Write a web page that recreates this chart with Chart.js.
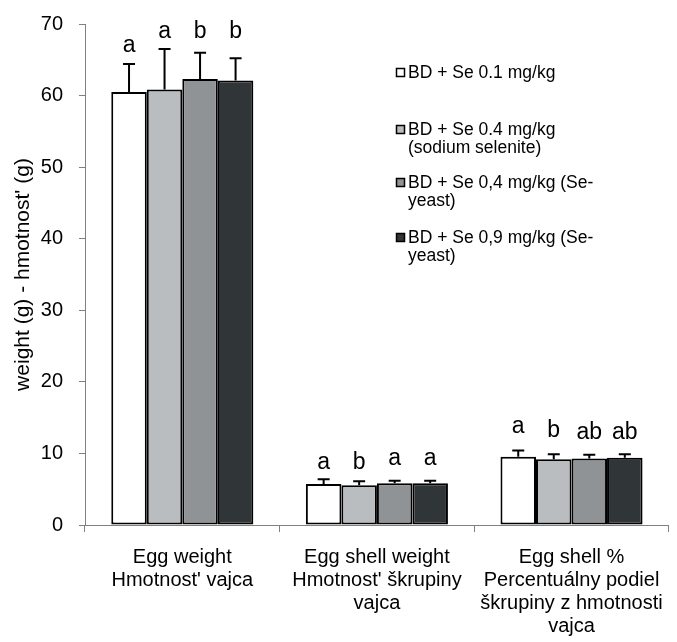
<!DOCTYPE html>
<html>
<head>
<meta charset="utf-8">
<script src="https://cdn.jsdelivr.net/npm/chart.js@4.4.0/dist/chart.umd.min.js"></script>
<style>
  html, body { margin: 0; padding: 0; background: #fff; }
  #wrap { width: 677px; height: 642px; }
</style>
</head>
<body>
<div id="wrap"><canvas id="eggChart" width="677" height="642"></canvas></div>
<script>
// categories (x axis)
const categories = [
  ["Egg weight", "Hmotnost' vajca"],
  ["Egg shell weight", "Hmotnost' škrupiny", "vajca"],
  ["Egg shell %", "Percentuálny podiel", "škrupiny z hmotnosti", "vajca"]
];

// groups
const groupNames = [
  ["BD + Se 0.1 mg/kg"],
  ["BD + Se 0.4 mg/kg", "(sodium selenite)"],
  ["BD + Se 0,4 mg/kg (Se-", "yeast)"],
  ["BD + Se 0,9 mg/kg (Se-", "yeast)"]
];
const groupColors = ["#ffffff", "#b9bdbf", "#8f9395", "#303538"];

// means
const se01 = [60.5, 5.73, 9.55];
const se04 = [60.85, 5.54, 9.2];
const se04y = [62.3, 5.82, 9.3];
const se09y = [62.1, 5.82, 9.4];

// standard deviations (upper error bars)
const se01Err = [3.9, 0.67, 0.85];
const se04Err = [5.65, 0.56, 0.7];
const se04yErr = [3.7, 0.38, 0.5];
const se09yErr = [3.1, 0.38, 0.5];

// significance letters and the height they sit at
const se01Letters = ["a", "a", "a"];
const se04Letters = ["a", "b", "b"];
const se04yLetters = ["b", "a", "ab"];
const se09yLetters = ["b", "a", "ab"];
const se01LetterY = [66.1, 7.8, 12.8];
const se04LetterY = [68.1, 7.8, 12.25];
const se04yLetterY = [68.1, 8.4, 11.97];
const se09yLetterY = [68.1, 8.4, 12.0];

const yTicks = [0, 10, 20, 30, 40, 50, 60, 70];

const FONT = "'Liberation Sans', Arial, sans-serif";

const seriesValues = [se01, se04, se04y, se09y];
const seriesErr = [se01Err, se04Err, se04yErr, se09yErr];
const seriesLetters = [se01Letters, se04Letters, se04yLetters, se09yLetters];
const seriesLetterY = [se01LetterY, se04LetterY, se04yLetterY, se09yLetterY];

const errorBars = {
  id: "errorBars",
  afterDatasetsDraw(chart) {
    const ctx = chart.ctx;
    const y = chart.scales.y;
    ctx.save();
    ctx.strokeStyle = "#000";
    ctx.lineWidth = 2;
    chart.data.datasets.forEach((ds, i) => {
      chart.getDatasetMeta(i).data.forEach((bar, j) => {
        const top = y.getPixelForValue(ds.data[j] + seriesErr[i][j]);
        ctx.beginPath();
        ctx.moveTo(bar.x, bar.y);
        ctx.lineTo(bar.x, top);
        ctx.moveTo(bar.x - 6, top);
        ctx.lineTo(bar.x + 6, top);
        ctx.stroke();
      });
    });
    // letters
    ctx.fillStyle = "#000";
    ctx.font = "23px " + FONT;
    ctx.textAlign = "center";
    ctx.textBaseline = "alphabetic";
    chart.data.datasets.forEach((ds, i) => {
      chart.getDatasetMeta(i).data.forEach((bar, j) => {
        ctx.fillText(seriesLetters[i][j], bar.x, y.getPixelForValue(seriesLetterY[i][j]));
      });
    });
    ctx.restore();
  }
};

const sideLegend = {
  id: "sideLegend",
  afterDraw(chart) {
    const ctx = chart.ctx;
    const rows = [73, 130, 183, 238];
    ctx.save();
    ctx.font = "17.5px " + FONT;
    ctx.textBaseline = "middle";
    ctx.textAlign = "left";
    groupNames.forEach((lines, i) => {
      const cy = rows[i];
      ctx.fillStyle = groupColors[i];
      ctx.fillRect(396.5, cy - 4.5, 8, 8);
      ctx.strokeStyle = "#000";
      ctx.lineWidth = 1.5;
      ctx.strokeRect(396.5, cy - 4.5, 8, 8);
      ctx.fillStyle = "#000";
      lines.forEach((t, k) => ctx.fillText(t, 408, cy + k * 18.5));
    });
    ctx.restore();
  }
};

new Chart(document.getElementById("eggChart"), {
  type: "bar",
  data: {
    labels: categories,
    datasets: seriesValues.map((vals, i) => ({
      label: groupNames[i].join(" "),
      data: vals,
      backgroundColor: groupColors[i],
      borderColor: "#000",
      borderWidth: 2,
      borderSkipped: false,
      categoryPercentage: 0.73,
      barPercentage: 1.0
    }))
  },
  options: {
    responsive: false,
    animation: false,
    layout: { padding: { top: 24, right: 2, left: 0, bottom: 0 } },
    plugins: {
      legend: { display: false },
      tooltip: { enabled: false }
    },
    scales: {
      x: {
        afterFit: s => { s.height = 117; },
        grid: { offset: true, drawOnChartArea: false, color: "#808080", tickLength: 7 },
        border: { color: "#808080", width: 1 },
        ticks: { color: "#000", font: { family: FONT, size: 20, lineHeight: 1.15 }, padding: 14, maxRotation: 0, autoSkip: false }
      },
      y: {
        min: 0,
        max: 70,
        afterFit: s => { s.width = 85; s.paddingTop = 0; s.paddingBottom = 0; },
        afterBuildTicks: s => { s.ticks = yTicks.map(v => ({ value: v })); },
        grid: { drawOnChartArea: false, color: "#808080", tickLength: 6 },
        border: { color: "#808080", width: 1 },
        ticks: { color: "#000", font: { family: FONT, size: 20 }, padding: 16 },
        title: {
          display: true,
          text: "weight (g) - hmotnost' (g)",
          color: "#000",
          font: { family: FONT, size: 21 },
          padding: { top: 11, bottom: 0 }
        }
      }
    }
  },
  plugins: [errorBars, sideLegend]
});
</script>
</body>
</html>
